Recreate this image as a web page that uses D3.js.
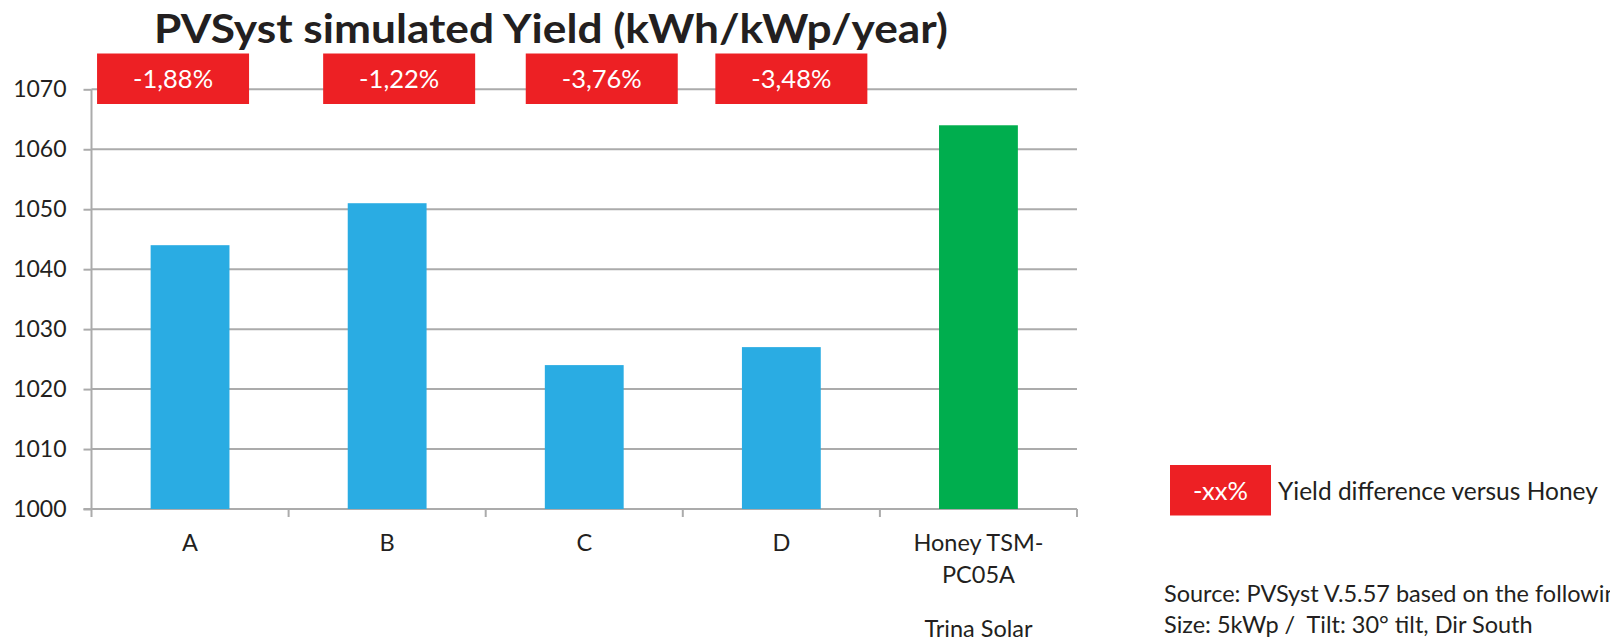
<!DOCTYPE html>
<html>
<head>
<meta charset="utf-8">
<script src="https://cdn.jsdelivr.net/npm/d3@7"></script>
<style>
  html, body { margin: 0; padding: 0; background: #fff; overflow: hidden; }
  text { font-family: Lato, "Open Sans", sans-serif; fill: #231f20; white-space: pre; }
</style>
</head>
<body>
<div id="chart"></div>
<script>
// chart data
var categories = ["A", "B", "C", "D", "Honey"];
var catLabels = [["A"], ["B"], ["C"], ["D"], ["Honey TSM-", "PC05A", "Trina Solar"]];
var yields = [1044, 1051, 1024, 1027, 1064];
var diffLabels = ["-1,88%", "-1,22%", "-3,76%", "-3,48%"];
var yTicks = [1000, 1010, 1020, 1030, 1040, 1050, 1060, 1070];

// layout
var W = 1610, H = 641;
var plot = {left: 91.5, right: 1077, top: 89.3, bottom: 509};
var boxShift = [-17, 12, 17.5, 10];   // red boxes are not quite centred on the bars
var red = "#ed2024", blue = "#2aace3", green = "#00ae4e", grid = "#ababab";

var svg = d3.select("#chart").append("svg")
    .attr("width", W)
    .attr("height", H);

var x = d3.scaleBand().domain(categories).range([plot.left, plot.right]);
var y = d3.scaleLinear().domain([1000, 1070]).range([plot.bottom, plot.top]);

// title
svg.append("text")
    .attr("x", 154).attr("y", 43)
    .attr("textLength", 794).attr("lengthAdjust", "spacingAndGlyphs")
    .style("font-size", "40px").style("font-weight", 700)
    .text("PVSyst simulated Yield (kWh/kWp/year)");

// gridlines
svg.append("g").selectAll("line")
    .data(yTicks.slice(1))
    .enter().append("line")
    .attr("x1", plot.left).attr("x2", plot.right)
    .attr("y1", function(d) { return y(d); })
    .attr("y2", function(d) { return y(d); })
    .attr("stroke", grid).attr("stroke-width", 2);

// y axis
var yAxis = d3.axisLeft(y).tickValues(yTicks).tickSize(8).tickPadding(17).tickFormat(d3.format("d"));
var gy = svg.append("g")
    .attr("transform", `translate(${plot.left},0)`)
    .call(yAxis);
gy.select(".domain").remove();
gy.selectAll(".tick line").attr("stroke", grid).attr("stroke-width", 2);
gy.selectAll(".tick text").style("font-size", "23px").style("font-family", "Lato").attr("fill", "#231f20");
svg.append("line")
    .attr("x1", plot.left).attr("x2", plot.left)
    .attr("y1", plot.top).attr("y2", plot.bottom + 8)
    .attr("stroke", grid).attr("stroke-width", 2);

// x axis line and category boundary ticks
svg.append("line")
    .attr("x1", plot.left - 8).attr("x2", plot.right)
    .attr("y1", plot.bottom).attr("y2", plot.bottom)
    .attr("stroke", grid).attr("stroke-width", 2);
svg.append("g").selectAll("line")
    .data(categories.slice(1).concat(["end"]))
    .enter().append("line")
    .attr("x1", function(d) { return d == "end" ? plot.right : x(d); })
    .attr("x2", function(d) { return d == "end" ? plot.right : x(d); })
    .attr("y1", plot.bottom).attr("y2", plot.bottom + 8)
    .attr("stroke", grid).attr("stroke-width", 2);

// bars
var barW = x.bandwidth() * 0.4;
svg.append("g").selectAll("rect")
    .data(yields)
    .enter().append("rect")
    .attr("x", function(d, i) { return x(categories[i]) + (x.bandwidth() - barW) / 2; })
    .attr("width", barW)
    .attr("y", function(d) { return y(d); })
    .attr("height", function(d) { return y(1000) - y(d); })
    .attr("fill", function(d, i) { return i == categories.length - 1 ? green : blue; });

// category labels (third line sits after an empty line)
var lineDy = [0, 32, 54];
var labels = svg.append("g").selectAll("text")
    .data(catLabels)
    .enter().append("text")
    .attr("text-anchor", "middle")
    .attr("y", plot.bottom + 42)
    .style("font-size", "23.5px");
labels.each(function(lines, i) {
    var t = d3.select(this);
    lines.forEach(function(s, j) {
        t.append("tspan")
            .attr("x", x(categories[i]) + x.bandwidth() / 2)
            .attr("dy", lineDy[j])
            .text(s);
    });
});

// red difference boxes
var boxW = 152, boxH = 50.5, boxTop = 53.5;
var boxes = svg.append("g").selectAll("g")
    .data(diffLabels)
    .enter().append("g")
    .attr("transform", function(d, i) {
        var cx = x(categories[i]) + x.bandwidth() / 2 + boxShift[i];
        return `translate(${cx},${boxTop})`;
    });
boxes.append("rect")
    .attr("x", -boxW / 2).attr("width", boxW).attr("height", boxH)
    .attr("fill", red);
boxes.append("text")
    .attr("text-anchor", "middle").attr("y", 34)
    .style("font-size", "25.5px").style("fill", "#fff")
    .text(function(d) { return d; });

// legend
svg.append("rect")
    .attr("x", 1170).attr("y", 465).attr("width", 101).attr("height", 50.5)
    .attr("fill", red);
svg.append("text")
    .attr("x", 1220.5).attr("y", 500).attr("text-anchor", "middle")
    .style("font-size", "25.5px").style("fill", "#fff")
    .text("-xx%");
svg.append("text")
    .attr("x", 1278).attr("y", 500)
    .style("font-size", "24.5px")
    .text("Yield difference versus Honey");

// source note (runs off the right edge, as in the original)
svg.append("text")
    .attr("x", 1164).attr("y", 602)
    .style("font-size", "23.5px")
    .text("Source: PVSyst V.5.57 based on the following");
svg.append("text")
    .attr("x", 1164).attr("y", 633)
    .style("font-size", "23.5px")
    .text("Size: 5kWp /  Tilt: 30° tilt, Dir South");
</script>
</body>
</html>
